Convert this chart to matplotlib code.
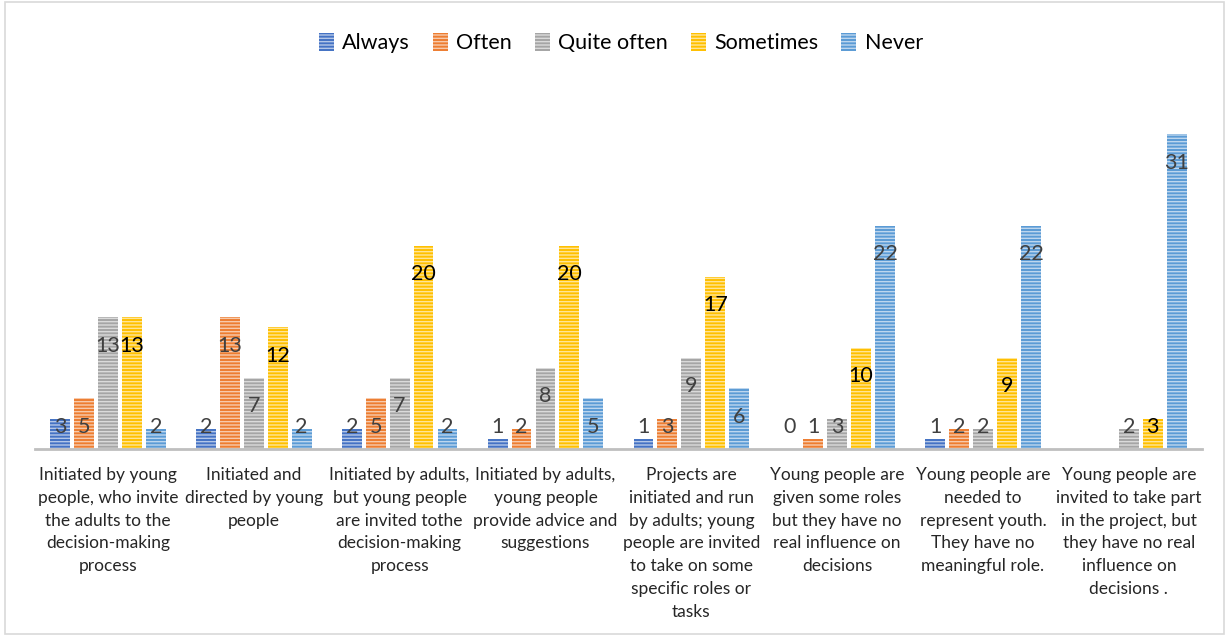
import numpy as np
import matplotlib.pyplot as plt
from matplotlib.patches import Rectangle

plt.rcParams['font.family'] = ['Lato', 'DejaVu Sans']
plt.rcParams['hatch.linewidth'] = 1.0

# stages of participation
categories = [
    "Initiated by young\npeople, who invite\nthe adults to the\ndecision-making\nprocess",
    "Initiated and\ndirected by young\npeople",
    "Initiated by adults,\nbut young people\nare invited tothe\ndecision-making\nprocess",
    "Initiated by adults,\nyoung people\nprovide advice and\nsuggestions",
    "Projects are\ninitiated and run\nby adults; young\npeople are invited\nto take on some\nspecific roles or\ntasks",
    "Young people are\ngiven some roles\nbut they have no\nreal influence on\ndecisions",
    "Young people are\nneeded to\nrepresent youth.\nThey have no\nmeaningful role.",
    "Young people are\ninvited to take part\nin the project, but\nthey have no real\ninfluence on\ndecisions .",
]

series_names = ['Always', 'Often', 'Quite often', 'Sometimes', 'Never']
always      = [3, 2, 2, 1, 1, 0, 1, None]
often       = [5, 13, 5, 2, 3, 1, 2, None]
quite_often = [13, 7, 7, 8, 9, 3, 2, 2]
sometimes   = [13, 12, 20, 20, 17, 10, 9, 3]
never       = [2, 2, 2, 5, 6, 22, 22, 31]

series = [always, often, quite_often, sometimes, never]
colors = ['#4472C4', '#ED7D31', '#A5A5A5', '#FFC000', '#5B9BD5']
label_colors = ['#404040', '#404040', '#404040', '#000000', '#404040']

fig = plt.figure(figsize=(12.27, 6.36), dpi=100)
ax = fig.add_axes([0.0285, 0.294, 0.951, 0.5425])

x = np.arange(len(categories))
step = 0.164
width = 0.136

for i, (name, vals) in enumerate(zip(series_names, series)):
    pos = x + (i - 2) * step
    for xp, v in zip(pos, vals):
        if v is None:
            continue
        ax.bar(xp, v, width, color=colors[i], edgecolor=(1, 1, 1, 0.6),
               hatch='-----', linewidth=0)
        ly = max(v - 2.8, 2.2)
        ax.text(xp, ly, str(v), ha='center', va='center', fontsize=15.5,
                color=label_colors[i])

# legend proxies with the same striped fill
handles = [Rectangle((0, 0), 1, 1, facecolor=c, edgecolor=(1, 1, 1, 0.6),
                     hatch='-----', linewidth=0) for c in colors]
fig.legend(handles, series_names, loc='center', bbox_to_anchor=(0.506, 1 - 43 / 636),
           ncol=5, frameon=False, fontsize=15.5, handlelength=0.7, handleheight=0.9,
           handletextpad=0.4, columnspacing=1.05)

ax.set_xlim(-0.5, 7.5)
ax.set_ylim(0, 34)
ax.set_yticks([])
ax.set_xticks(x)
ax.set_xticklabels(categories, fontsize=12.5, color='#262626', linespacing=1.52)
ax.tick_params(axis='x', length=0, pad=13)
for side in ['top', 'right', 'left']:
    ax.spines[side].set_visible(False)
ax.spines['bottom'].set_color('#BFBFBF')
ax.spines['bottom'].set_linewidth(2)

# chart area border
fig.patches.append(Rectangle((5 / 1227, 2 / 636), 1219 / 1227, 632 / 636,
                             transform=fig.transFigure, fill=False,
                             edgecolor='#D9D9D9', linewidth=1.2))

fig.savefig('out.png', dpi=100)
